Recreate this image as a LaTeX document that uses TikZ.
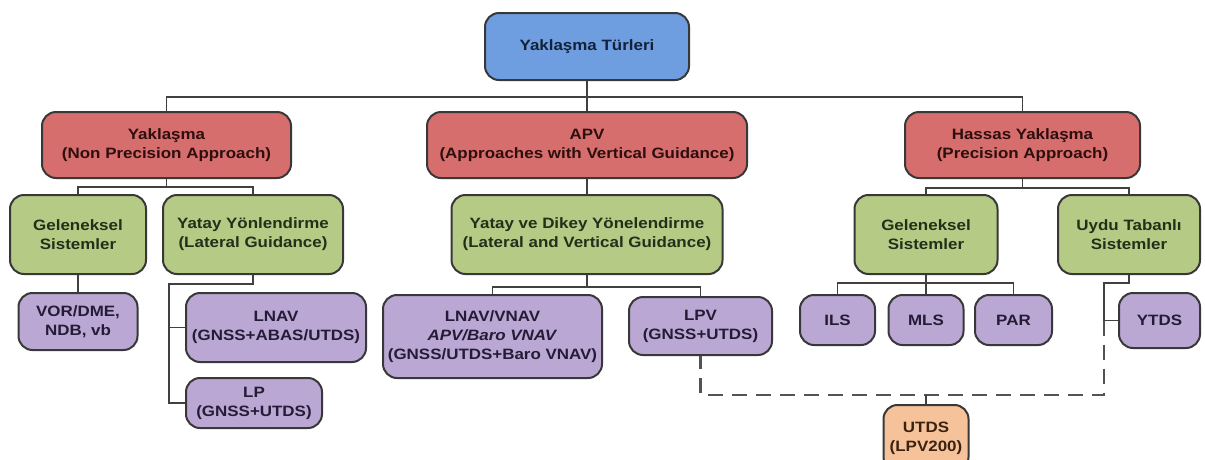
\documentclass[tikz,border=0pt]{standalone}
\usepackage{fontspec}
\newfontfamily\diafont{Liberation Sans}[FakeStretch=1.13]
\definecolor{cblue}{HTML}{6E9EE0}
\definecolor{cred}{HTML}{D56E6C}
\definecolor{cgreen}{HTML}{B5CA85}
\definecolor{cpurple}{HTML}{BBA7D4}
\definecolor{cpeach}{HTML}{F6C29A}
\definecolor{cborder}{HTML}{383838}
\definecolor{cline}{HTML}{404040}
\definecolor{tblue}{HTML}{14213A}
\definecolor{tred}{HTML}{2E0E0E}
\definecolor{tgreen}{HTML}{22301A}
\definecolor{tpurple}{HTML}{241C36}
\definecolor{tpeach}{HTML}{3A2210}
\begin{document}
\begin{tikzpicture}[x=1pt,y=-1pt,
  box/.style={draw=cborder,line width=2pt,rounded corners=14pt,align=center,inner sep=0pt,
    font=\diafont\bfseries\fontsize{15}{19}\selectfont},
  topbox/.style={box,fill=cblue,text=tblue},
  redbox/.style={box,fill=cred,text=tred},
  greenbox/.style={box,fill=cgreen,text=tgreen},
  purplebox/.style={box,fill=cpurple,text=tpurple},
  peachbox/.style={box,fill=cpeach,text=tpeach},
  conn/.style={draw=cline,line width=1.8pt},
  dconn/.style={draw=cline!90,line width=2.3pt,dash pattern=on 15pt off 9pt}
]
\useasboundingbox (0,0) rectangle (1205,459);
\clip (0,0) rectangle (1205,459);
\fill[white] (0,0) rectangle (1205,459);

% nodes
\node[topbox,minimum width=204pt,minimum height=67pt] (top) at (587,46.5) {Yaklaşma Türleri};

\node[redbox,minimum width=249pt,minimum height=66pt] (npa) at (166.5,145) {Yaklaşma\\(Non Precision Approach)};
\node[redbox,minimum width=320pt,minimum height=66pt] (apv) at (587,145) {APV\\(Approaches with Vertical Guidance)};
\node[redbox,minimum width=235pt,minimum height=66pt] (has) at (1022.5,145) {Hassas Yaklaşma\\(Precision Approach)};

\node[greenbox,minimum width=136pt,minimum height=79pt] (gel1) at (78,234.5) {Geleneksel\\Sistemler};
\node[greenbox,minimum width=180pt,minimum height=79pt] (yat) at (253,234.5) {Yatay Yönlendirme\\(Lateral Guidance)};
\node[greenbox,minimum width=271pt,minimum height=79pt] (ydk) at (587,234.5) {Yatay ve Dikey Yönelendirme\\(Lateral and Vertical Guidance)};
\node[greenbox,minimum width=143pt,minimum height=79pt] (gel2) at (926,234.5) {Geleneksel\\Sistemler};
\node[greenbox,minimum width=142pt,minimum height=79pt] (uyd) at (1129,234.5) {Uydu Tabanlı\\Sistemler};

\node[purplebox,minimum width=119pt,minimum height=57pt] (vor) at (78,321.5) {VOR/DME,\\NDB, vb};
\node[purplebox,minimum width=180pt,minimum height=69pt] (lnav) at (276,327.5) {LNAV\\(GNSS+ABAS/UTDS)};
\node[purplebox,minimum width=136pt,minimum height=50pt] (lp) at (254,403) {LP\\(GNSS+UTDS)};
\node[purplebox,minimum width=219pt,minimum height=83pt] (lvn) at (492.5,336.5) {LNAV/VNAV\\\textit{APV/Baro VNAV}\\(GNSS/UTDS+Baro VNAV)};
\node[purplebox,minimum width=143pt,minimum height=58pt] (lpv) at (700.5,326) {LPV\\(GNSS+UTDS)};
\node[purplebox,minimum width=75pt,minimum height=50pt] (ils) at (837.5,320) {ILS};
\node[purplebox,minimum width=75pt,minimum height=50pt] (mls) at (926,320) {MLS};
\node[purplebox,minimum width=77pt,minimum height=50pt] (par) at (1013.5,320) {PAR};
\node[purplebox,minimum width=81pt,minimum height=55pt] (ytds) at (1159.5,320.5) {YTDS};
\node[peachbox,minimum width=85pt,minimum height=66pt] (utds) at (926,438) {UTDS\\(LPV200)};

% bus coordinates
\coordinate (b0) at (587,97);
\coordinate (b1) at (166.5,187);
\coordinate (b2) at (1022.5,188);
\coordinate (b3) at (169,284);
\coordinate (b4) at (587,287);
\coordinate (b5) at (926,283);
\coordinate (b6) at (1104,283);
\coordinate (b7) at (1104,320.5);
\coordinate (b8) at (1104,395);
\coordinate (b9) at (926,395);

% connectors
\draw[conn] (top.south) -- (apv.north);
\draw[conn] (npa.north) |- (b0) -| (has.north);
\draw[conn] (apv.south) -- (ydk.north);
\draw[conn] (npa.south) -- (b1);
\draw[conn] (gel1.north) |- (b1) -| (yat.north);
\draw[conn] (has.south) -- (b2);
\draw[conn] (gel2.north) |- (b2) -| (uyd.north);
\draw[conn] (gel1.south) -- (vor.north);
\draw[conn] (yat.south) |- (b3) |- (lp.west);
\draw[conn] (b3 |- lnav.west) -- (lnav.west);
\draw[conn] (ydk.south) -- (b4);
\draw[conn] (lvn.north) |- (b4) -| (lpv.north);
\draw[conn] (gel2.south) -- (b5);
\draw[conn] (ils.north) |- (b5) -| (par.north);
\draw[conn] (b5) -- (mls.north);
\draw[conn] (uyd.south) |- (b6) -- (b7) -- (ytds.west);
\draw[dconn] (b7) -- (b8) -| (lpv.south);
\draw[conn] (b9) -- (utds.north);
\end{tikzpicture}
\end{document}
